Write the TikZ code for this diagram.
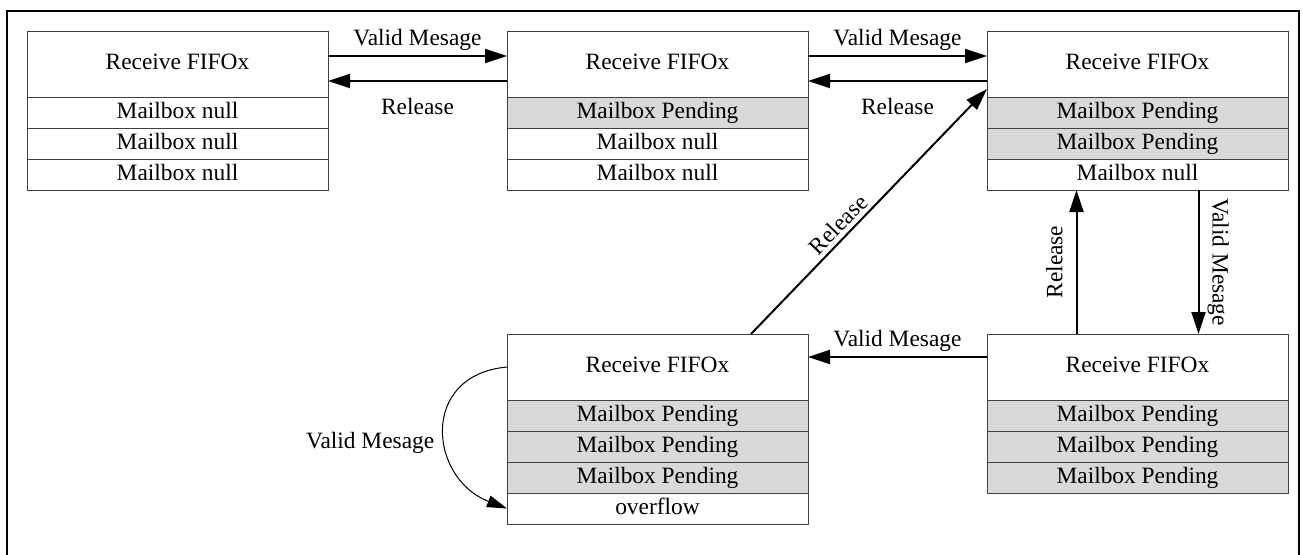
\documentclass[tikz,border=0pt]{standalone}
\usepackage{fontspec}
\setmainfont{Liberation Serif}
\usetikzlibrary{positioning, arrows.meta}
\definecolor{pendgray}{RGB}{217,217,217}

\begin{document}
\begin{tikzpicture}[
    x=0.5pt, y=-0.5pt,
    head/.style={rectangle, draw=black!75, line width=0.5pt, fill=white, minimum width=150.5pt, minimum height=33pt, inner sep=0pt, outer sep=0pt, text height=8pt, text depth=2.5pt, font=\fontsize{11.7}{14}\selectfont},
    slot/.style={head, minimum height=15.5pt},
    pend/.style={slot, fill=pendgray},
    arr/.style={-{Triangle[length=11pt, width=7pt]}, line width=1pt},
    selfarr/.style={-{Triangle[length=10pt, width=6pt]}, line width=0.5pt},
    lbl/.style={inner sep=2pt, font=\fontsize{11.7}{14}\selectfont}
]
    \useasboundingbox (0,0) rectangle (1303,554);
    \draw[line width=1pt] (7,558) -- (7,11) -- (1299,11) -- (1299,558);

    \node[head] (f1) at (177.5,64) {Receive FIFOx};
    \node[slot] (r11) [below=0pt of f1] {Mailbox null};
    \node[slot] (r12) [below=0pt of r11] {Mailbox null};
    \node[slot] (r13) [below=0pt of r12] {Mailbox null};

    \node[head] (f2) [right=89.5pt of f1] {Receive FIFOx};
    \node[pend] (r21) [below=0pt of f2] {Mailbox Pending};
    \node[slot] (r22) [below=0pt of r21] {Mailbox null};
    \node[slot] (r23) [below=0pt of r22] {Mailbox null};

    \node[head] (f3) [right=89.5pt of f2] {Receive FIFOx};
    \node[pend] (r31) [below=0pt of f3] {Mailbox Pending};
    \node[pend] (r32) [below=0pt of r31] {Mailbox Pending};
    \node[slot] (r33) [below=0pt of r32] {Mailbox null};

    \node[head] (f4) [below=72pt of r23] {Receive FIFOx};
    \node[pend] (r41) [below=0pt of f4] {Mailbox Pending};
    \node[pend] (r42) [below=0pt of r41] {Mailbox Pending};
    \node[pend] (r43) [below=0pt of r42] {Mailbox Pending};
    \node[slot] (r44) [below=0pt of r43] {overflow};

    \node[head] (f5) [right=89.5pt of f4] {Receive FIFOx};
    \node[pend] (r51) [below=0pt of f5] {Mailbox Pending};
    \node[pend] (r52) [below=0pt of r51] {Mailbox Pending};
    \node[pend] (r53) [below=0pt of r52] {Mailbox Pending};

    \draw[arr] ([yshift=4pt]f1.east) -- node[lbl, above] {Valid Mesage} ([yshift=4pt]f2.west);
    \draw[arr] ([yshift=-8.5pt]f2.west) -- node[lbl, below=6pt] {Release} ([yshift=-8.5pt]f1.east);
    \draw[arr] ([yshift=4pt]f2.east) -- node[lbl, above] {Valid Mesage} ([yshift=4pt]f3.west);
    \draw[arr] ([yshift=-8.5pt]f3.west) -- node[lbl, below=6pt] {Release} ([yshift=-8.5pt]f2.east);

    \draw[arr] ([xshift=46.75pt]f4.north) -- node[lbl, sloped, above, pos=0.41] {Release} ([yshift=-12.5pt]f3.west);
    \draw[arr] ([xshift=-30.5pt]f5.north) -- node[lbl, sloped, above=4.5pt] {Release} ([xshift=-30.5pt]r33.south);
    \draw[arr] ([xshift=30.5pt]r33.south) -- node[lbl, sloped, above=2pt] {Valid Mesage} ([xshift=30.5pt]f5.north);
    \draw[arr] ([yshift=5pt]f5.west) -- node[lbl, above] {Valid Mesage} ([yshift=5pt]f4.east);

    \draw[selfarr] (f4.west) .. controls +(-88,8) and +(-78,-30) .. node[lbl, left=3pt, yshift=-6.5pt] {Valid Mesage} (r44.west);
\end{tikzpicture}
\end{document}
